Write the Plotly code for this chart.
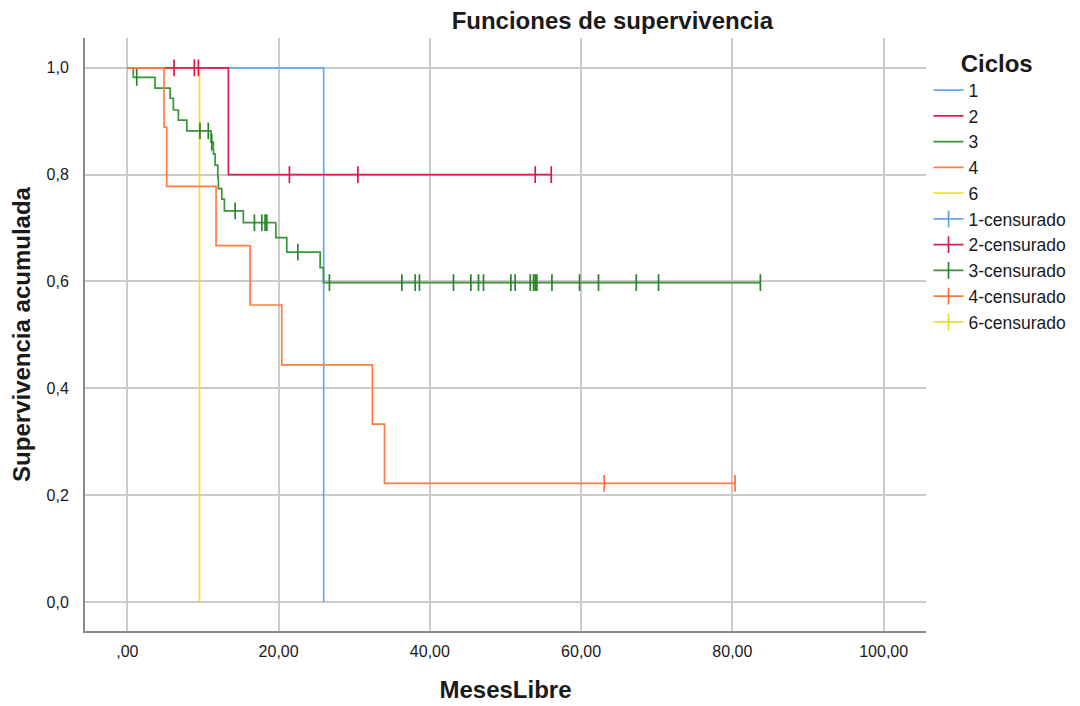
import plotly.graph_objects as go

# ---------------- data ----------------
groups = ["1", "2", "3", "4", "6"]
colors = {"1": "#6aa6ee", "2": "#dc1f52", "3": "#3a943a", "4": "#ff7d42", "6": "#ece22e"}
marker_colors = {"1": "#5f9ee8", "2": "#d8194c", "3": "#278527", "4": "#ff7036", "6": "#e6da20"}

# event times and survival after each event
ev_t_1 = [25.96]
ev_s_1 = [0.0]
end_1 = 25.96
cens_1 = []

ev_t_2 = [13.36]
ev_s_2 = [0.80]
end_2 = 56.05
cens_2 = [6.18, 8.86, 9.39, 21.43, 30.48, 53.93, 56.05]

ev_t_3 = [0.79, 3.66, 5.65, 6.08, 6.75, 7.86, 11.07, 11.38, 11.60, 11.96, 12.04,
          12.49, 12.83, 15.34, 19.63, 21.08, 25.49, 25.93]
ev_s_3 = [0.982, 0.962, 0.943, 0.921, 0.902, 0.882, 0.861, 0.839, 0.818, 0.795, 0.774,
          0.754, 0.732, 0.710, 0.682, 0.655, 0.626, 0.598]
end_3 = 83.70
cens_3 = [1.24, 9.60, 10.70, 11.16, 14.25, 16.80, 17.78, 18.21, 18.44, 22.54,
          26.72, 36.30, 38.06, 38.62, 43.12, 45.42, 46.43, 47.09, 50.71, 51.28,
          53.27, 53.70, 53.93, 54.15, 56.14, 59.79, 62.30, 67.29, 70.24, 83.70]

ev_t_4 = [4.85, 5.20, 11.73, 16.23, 20.42, 32.40, 34.00]
ev_s_4 = [0.889, 0.778, 0.667, 0.556, 0.444, 0.333, 0.222]
end_4 = 80.35
cens_4 = [63.05, 80.35]

ev_t_6 = [9.54]
ev_s_6 = [0.0]
end_6 = 9.54
cens_6 = []

x_tickvals = [0, 20, 40, 60, 80, 100]
x_ticktext = [",00", "20,00", "40,00", "60,00", "80,00", "100,00"]
y_tickvals = [0.0, 0.2, 0.4, 0.6, 0.8, 1.0]
y_ticktext = ["0,0", "0,2", "0,4", "0,6", "0,8", "1,0"]

data = {
    "1": (ev_t_1, ev_s_1, end_1, cens_1),
    "2": (ev_t_2, ev_s_2, end_2, cens_2),
    "3": (ev_t_3, ev_s_3, end_3, cens_3),
    "4": (ev_t_4, ev_s_4, end_4, cens_4),
    "6": (ev_t_6, ev_s_6, end_6, cens_6),
}


def surv_at(t, ev_t, ev_s):
    s = 1.0
    for et, es in zip(ev_t, ev_s):
        if et <= t:
            s = es
    return s


FONT = "Liberation Sans, Arial, sans-serif"
TXT = "#1a1a1a"
fig = go.Figure()

draw_order = ["1", "6", "2", "3", "4"]
line_traces = {}
for g in groups:
    ev_t, ev_s, end, cens = data[g]
    xs = [0.0] + list(ev_t)
    ys = [1.0] + list(ev_s)
    if end > xs[-1]:
        xs.append(end)
        ys.append(ys[-1])
    line_traces[g] = go.Scatter(
        x=xs, y=ys, mode="lines", name=g,
        line=dict(color=colors[g], width=1.7, shape="hv"),
        legendrank=int(g),
        hoverinfo="skip",
    )

cens_traces = {}
for g in groups:
    ev_t, ev_s, end, cens = data[g]
    cx, cy = [], []
    for t in cens:
        cx += [t, None]
        cy += [surv_at(t, ev_t, ev_s), None]
    if not cx:
        cx, cy = [None], [None]
    cens_traces[g] = go.Scatter(
        x=cx, y=cy, mode="lines+markers", name=g + "-censurado",
        connectgaps=False,
        line=dict(color=colors[g], width=1.7),
        marker=dict(symbol="line-ns", size=12,
                    line=dict(color=marker_colors[g], width=1.7)),
        legendrank=100 + int(g),
        hoverinfo="skip",
    )

for g in draw_order:
    fig.add_trace(line_traces[g])
for g in draw_order:
    fig.add_trace(cens_traces[g])

fig.update_layout(
    width=1080, height=706,
    paper_bgcolor="white", plot_bgcolor="white",
    margin=dict(l=85, r=154, t=38, b=75, autoexpand=False),
    font=dict(family=FONT, color=TXT, size=16),
    title=dict(text="Funciones de supervivencia", x=0.567, xref="container",
               xanchor="center", y=0.971, yref="container", yanchor="middle",
               font=dict(family=FONT, size=24, weight="bold", color=TXT)),
    showlegend=True,
    legend=dict(
        x=1.003, xanchor="left", y=0.995, yanchor="top",
        title=dict(text="Ciclos ", side="top center",
                   font=dict(family=FONT, size=24, weight="bold", color=TXT)),
        font=dict(family=FONT, size=17.5, color=TXT),
        traceorder="normal", itemclick=False, bgcolor="rgba(0,0,0,0)",
    ),
)

fig.update_xaxes(
    range=[-5.6, 105.6], tickvals=x_tickvals, ticktext=x_ticktext,
    showgrid=True, gridcolor="#cbcbcb", gridwidth=1.5, zeroline=False,
    showline=True, linecolor="#8a8a8a", linewidth=2,
    ticks="", ticklabelstandoff=5, automargin=False,
    tickfont=dict(family=FONT, size=16, color=TXT),
    title=dict(text="MesesLibre", standoff=22,
               font=dict(family=FONT, size=24, weight="bold", color=TXT)),
)
fig.update_yaxes(
    range=[-0.0543, 1.0558], tickvals=y_tickvals, ticktext=y_ticktext,
    showgrid=True, gridcolor="#cbcbcb", gridwidth=1.5, zeroline=False,
    showline=True, linecolor="#8a8a8a", linewidth=2,
    ticks="", ticklabelstandoff=11, automargin=False,
    tickfont=dict(family=FONT, size=16, color=TXT),
    title=dict(text="Supervivencia acumulada", standoff=9,
               font=dict(family=FONT, size=24, weight="bold", color=TXT)),
)

fig.write_html("out.html")
